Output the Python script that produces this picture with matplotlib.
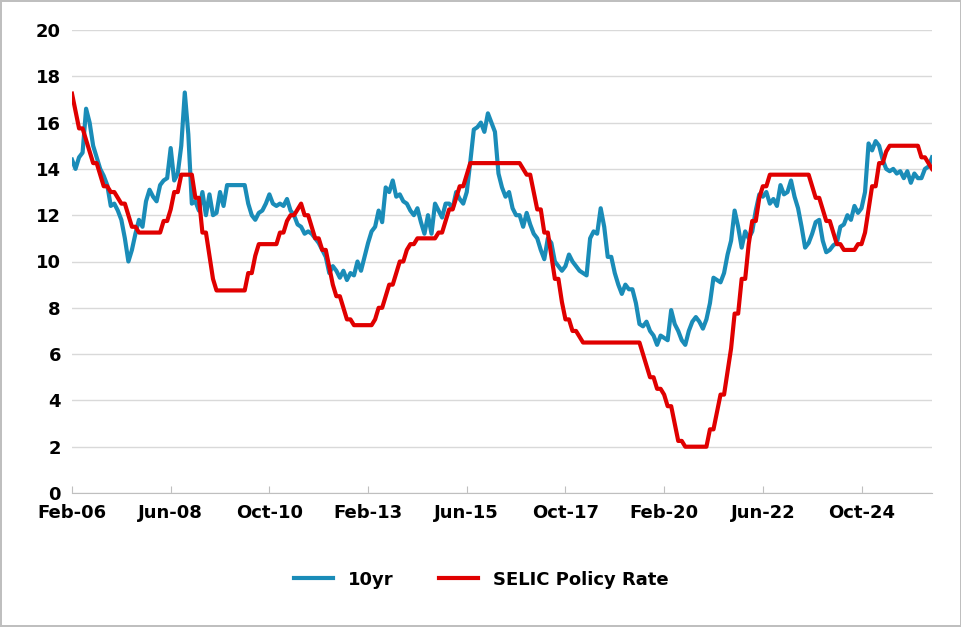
import matplotlib
matplotlib.use("Agg")
import matplotlib.pyplot as plt
import numpy as np

# monthly data Feb-06 .. Jun-26
yr10 = [14.4, 14.0, 14.5, 14.7, 16.6, 16.0, 15.0, 14.5, 14.0, 13.7, 13.3,
        12.4, 12.5, 12.2, 11.8, 11.0, 10.0, 10.5, 11.2, 11.8, 11.5, 12.6, 13.1,
        12.8, 12.6, 13.3, 13.5, 13.6, 14.9, 13.5, 13.8, 15.0, 17.3, 15.5, 12.5,
        12.6, 12.2, 13.0, 12.0, 12.9, 12.0, 12.1, 13.0, 12.4, 13.3, 13.3, 13.3,
        13.3, 13.3, 13.3, 12.5, 12.0, 11.8, 12.1, 12.2, 12.5, 12.9, 12.5, 12.4,
        12.5, 12.4, 12.7, 12.2, 12.0, 11.6, 11.5, 11.2, 11.3, 11.2, 11.0, 10.8,
        10.5, 10.2, 9.5, 9.8, 9.6, 9.3, 9.6, 9.2, 9.5, 9.4, 10.0, 9.6,
        10.2, 10.8, 11.3, 11.5, 12.2, 11.7, 13.2, 13.0, 13.5, 12.8, 12.9, 12.6,
        12.5, 12.2, 12.0, 12.3, 11.7, 11.2, 12.0, 11.2, 12.5, 12.2, 11.9, 12.5,
        12.5, 12.3, 13.0, 12.7, 12.5, 13.0, 14.3, 15.7, 15.8, 16.0, 15.6, 16.4,
        16.0, 15.6, 13.8, 13.2, 12.8, 13.0, 12.3, 12.0, 12.0, 11.5, 12.1, 11.6,
        11.2, 11.0, 10.5, 10.1, 11.0, 10.8, 10.0, 9.8, 9.6, 9.8, 10.3, 10.0,
        9.8, 9.6, 9.5, 9.4, 11.0, 11.3, 11.2, 12.3, 11.5, 10.2, 10.2, 9.5,
        9.0, 8.6, 9.0, 8.8, 8.8, 8.2, 7.3, 7.2, 7.4, 7.0, 6.8, 6.4,
        6.8, 6.7, 6.6, 7.9, 7.3, 7.0, 6.6, 6.4, 7.0, 7.4, 7.6, 7.4,
        7.1, 7.5, 8.2, 9.3, 9.2, 9.1, 9.5, 10.3, 10.9, 12.2, 11.5, 10.6,
        11.3, 11.0, 11.3, 12.2, 12.9, 12.8, 13.0, 12.5, 12.7, 12.4, 13.3, 12.9,
        13.0, 13.5, 12.8, 12.3, 11.5, 10.6, 10.8, 11.2, 11.7, 11.8, 10.9, 10.4,
        10.5, 10.7, 10.8, 11.5, 11.6, 12.0, 11.8, 12.4, 12.1, 12.3, 13.0, 15.1,
        14.8, 15.2, 15.0, 14.4, 14.0, 13.9, 14.0, 13.8, 13.9, 13.6, 13.9, 13.4,
        13.8, 13.6, 13.6, 14.0, 14.1, 14.5]

selic = [17.25, 16.5, 15.75, 15.75, 15.25, 14.75, 14.25, 14.25, 13.75, 13.25, 13.25,
         13.0, 13.0, 12.75, 12.5, 12.5, 12.0, 11.5, 11.5, 11.25, 11.25, 11.25, 11.25,
         11.25, 11.25, 11.25, 11.75, 11.75, 12.25, 13.0, 13.0, 13.75, 13.75, 13.75, 13.75,
         12.75, 12.75, 11.25, 11.25, 10.25, 9.25, 8.75, 8.75, 8.75, 8.75, 8.75, 8.75,
         8.75, 8.75, 8.75, 9.5, 9.5, 10.25, 10.75, 10.75, 10.75, 10.75, 10.75, 10.75,
         11.25, 11.25, 11.75, 12.0, 12.0, 12.25, 12.5, 12.0, 12.0, 11.5, 11.0, 11.0,
         10.5, 10.5, 9.75, 9.0, 8.5, 8.5, 8.0, 7.5, 7.5, 7.25, 7.25, 7.25,
         7.25, 7.25, 7.25, 7.5, 8.0, 8.0, 8.5, 9.0, 9.0, 9.5, 10.0, 10.0,
         10.5, 10.75, 10.75, 11.0, 11.0, 11.0, 11.0, 11.0, 11.0, 11.25, 11.25, 11.75,
         12.25, 12.25, 12.75, 13.25, 13.25, 13.75, 14.25, 14.25, 14.25, 14.25, 14.25, 14.25,
         14.25, 14.25, 14.25, 14.25, 14.25, 14.25, 14.25, 14.25, 14.25, 14.0, 13.75, 13.75,
         13.0, 12.25, 12.25, 11.25, 11.25, 10.25, 9.25, 9.25, 8.25, 7.5, 7.5, 7.0,
         7.0, 6.75, 6.5, 6.5, 6.5, 6.5, 6.5, 6.5, 6.5, 6.5, 6.5, 6.5,
         6.5, 6.5, 6.5, 6.5, 6.5, 6.5, 6.5, 6.0, 5.5, 5.0, 5.0, 4.5,
         4.5, 4.25, 3.75, 3.75, 3.0, 2.25, 2.25, 2.0, 2.0, 2.0, 2.0, 2.0,
         2.0, 2.0, 2.75, 2.75, 3.5, 4.25, 4.25, 5.25, 6.25, 7.75, 7.75, 9.25,
         9.25, 10.75, 11.75, 11.75, 12.75, 13.25, 13.25, 13.75, 13.75, 13.75, 13.75, 13.75,
         13.75, 13.75, 13.75, 13.75, 13.75, 13.75, 13.75, 13.25, 12.75, 12.75, 12.25, 11.75,
         11.75, 11.25, 10.75, 10.75, 10.5, 10.5, 10.5, 10.5, 10.75, 10.75, 11.25, 12.25,
         13.25, 13.25, 14.25, 14.25, 14.75, 15.0, 15.0, 15.0, 15.0, 15.0, 15.0, 15.0,
         15.0, 15.0, 14.5, 14.5, 14.25, 14.0]

tick_labels = ["Feb-06", "Jun-08", "Oct-10", "Feb-13", "Jun-15", "Oct-17",
               "Feb-20", "Jun-22", "Oct-24"]

x = np.arange(len(yr10))

fig = plt.figure(figsize=(9.62, 6.27), dpi=100)
fig.patch.set_edgecolor("#bfbfbf")
fig.patch.set_linewidth(1.5)
ax = fig.add_axes([72 / 962, 1 - 493 / 627, 860 / 962, 463 / 627])

ax.plot(x, yr10, color="#1a8cb8", lw=3, label="10yr")
ax.plot(x, selic, color="#e00000", lw=3, label="SELIC Policy Rate")

ax.set_ylim(0, 20)
ax.set_yticks(range(0, 21, 2))
ax.set_xlim(0, len(x) - 1)
ax.set_xticks(np.arange(len(tick_labels)) * 28)
ax.set_xticklabels(tick_labels)
ax.grid(axis="y", color="#d9d9d9", lw=1)
ax.set_axisbelow(True)
for s in ["top", "right", "left"]:
    ax.spines[s].set_visible(False)
ax.spines["bottom"].set_color("#bfbfbf")
ax.tick_params(axis="both", length=0, labelsize=13, pad=8)
ax.tick_params(axis="x", length=5, color="#bfbfbf", direction="in")
for t in ax.get_xticklabels() + ax.get_yticklabels():
    t.set_fontweight("bold")

fig.legend(loc="lower center", bbox_to_anchor=(0.5, 0.035), ncol=2, frameon=False,
           prop={"size": 13, "weight": "bold"}, handlelength=2.2, columnspacing=2.5)

fig.savefig("out.png", dpi=100)
